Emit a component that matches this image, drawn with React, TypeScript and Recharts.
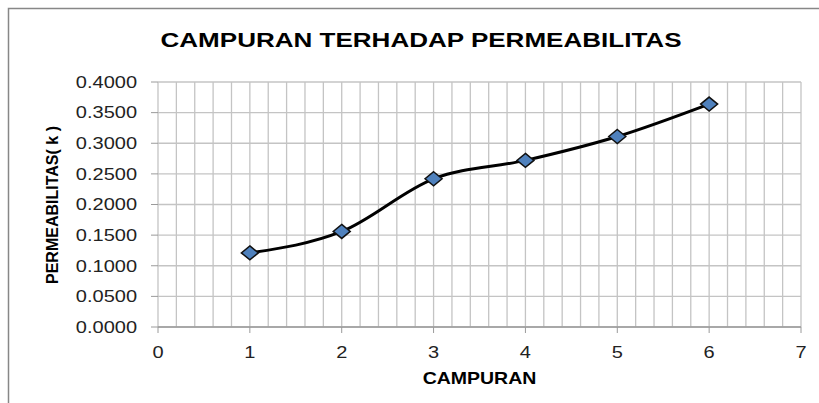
import { LineChart, Line, XAxis, YAxis, CartesianGrid } from "recharts";

const campuran = [1, 2, 3, 4, 5, 6];
const permeabilitas = [0.121, 0.156, 0.242, 0.272, 0.311, 0.364];
const xTicks = [0, 1, 2, 3, 4, 5, 6, 7];
const yTicks = [0, 0.05, 0.1, 0.15, 0.2, 0.25, 0.3, 0.35, 0.4];
const title = "CAMPURAN TERHADAP PERMEABILITAS";
const xTitle = "CAMPURAN";
const yTitle = "PERMEABILITAS( k )";

const rows = campuran.map((c, i) => ({ c, k: permeabilitas[i] }));
// minor vertical grid every 0.2
const minorX = Array.from({ length: 36 }, (_, i) => Math.round(i * 2) / 10);

const FONT = "'Liberation Sans', Arial, sans-serif";
const STRETCH = 1.25;

function YTick({ x, y, payload }: any) {
  return (
    <text transform={`translate(${x},${y}) scale(${STRETCH},1)`} textAnchor="end" dy="0.36em"
      fontFamily={FONT} fontSize={16} fill="#222">
      {Number(payload.value).toFixed(4)}
    </text>
  );
}

function XTick({ x, y, payload }: any) {
  return (
    <text transform={`translate(${x},${y}) scale(${STRETCH},1)`} textAnchor="middle" dy="0.36em"
      fontFamily={FONT} fontSize={16} fill="#222">
      {payload.value}
    </text>
  );
}

function Diamond({ cx, cy }: any) {
  if (cx == null || cy == null) return null;
  const w = 8.5, h = 7;
  return (
    <polygon points={`${cx},${cy - h} ${cx + w},${cy} ${cx},${cy + h} ${cx - w},${cy}`}
      fill="#4F81BD" stroke="#111" strokeWidth={1.5} />
  );
}

export default function App() {
  return (
    <div style={{ position: "absolute", left: 0, top: 0, width: 819, height: 403, background: "#fff" }}>
      <LineChart width={819} height={403} data={rows} margin={{ top: 82, right: 18, bottom: 0, left: 0 }}>
        <CartesianGrid stroke="#c4c4c4" strokeWidth={1.3} verticalValues={minorX} horizontalValues={yTicks} />
        <XAxis dataKey="c" type="number" domain={[0, 7]} ticks={xTicks} height={76}
          axisLine={{ stroke: "#9a9a9a", strokeWidth: 1.3 }} tickLine={{ stroke: "#9a9a9a" }}
          tickSize={6} tickMargin={19} tick={<XTick />} interval={0} />
        <YAxis type="number" domain={[0, 0.4]} ticks={yTicks} width={158}
          axisLine={false} tickLine={{ stroke: "#9a9a9a" }} tickSize={7} tickMargin={14}
          tick={<YTick />} interval={0} />
        <Line type="monotone" dataKey="k" stroke="#000" strokeWidth={3}
          dot={<Diamond />} activeDot={false} isAnimationActive={false} />
      </LineChart>
      <svg width={819} height={403} style={{ position: "absolute", left: 0, top: 0, pointerEvents: "none" }}>
        <path d="M8.5,403 L8.5,8.5 L819,8.5" fill="none" stroke="#878787" strokeWidth={1.5} />
        <text transform={`translate(421,46.7) scale(1.24,1)`} textAnchor="middle"
          fontFamily={FONT} fontWeight="bold" fontSize={21} fill="#000">{title}</text>
        <text transform={`translate(479.5,384) scale(1.22,1)`} textAnchor="middle"
          fontFamily={FONT} fontWeight="bold" fontSize={16} fill="#000">{xTitle}</text>
        <text transform={`translate(58.3,205) rotate(-90)`} textAnchor="middle"
          fontFamily={FONT} fontWeight="bold" fontSize={16} fill="#000">{yTitle}</text>
      </svg>
    </div>
  );
}
